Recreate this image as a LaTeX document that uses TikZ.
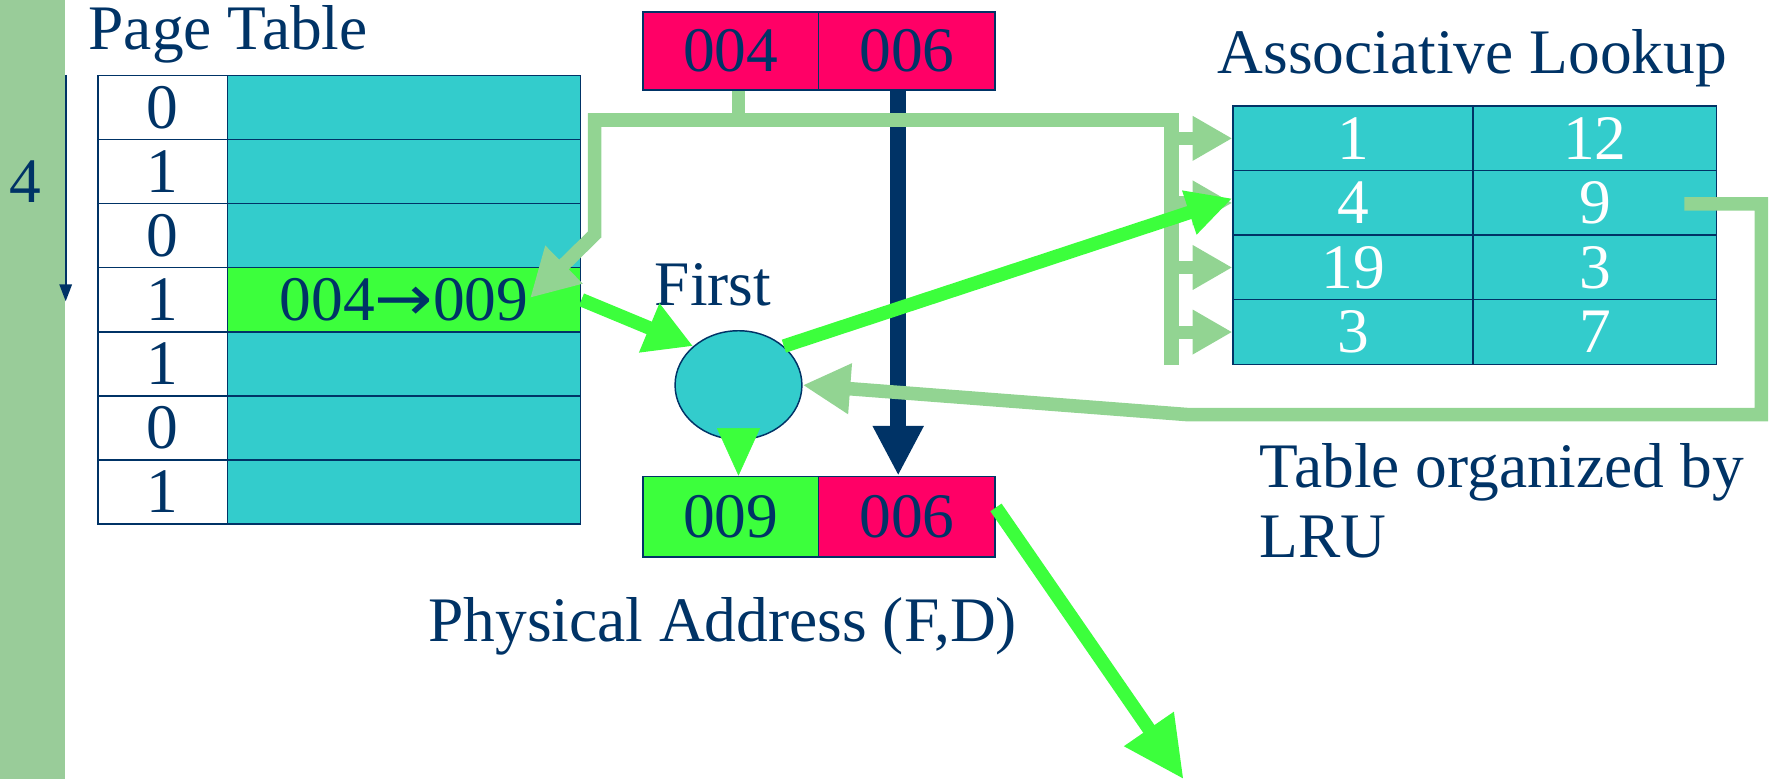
\documentclass[tikz,border=0pt]{standalone}
\usepackage{graphicx}
\usepackage{fontspec}
\setmainfont{Liberation Serif}
\newfontfamily\arrfont{DejaVu Sans}
\usetikzlibrary{arrows.meta,shapes.geometric}
\definecolor{navy}{RGB}{0,51,102}
\definecolor{tealc}{RGB}{51,204,204}
\definecolor{brightg}{RGB}{60,255,60}
\definecolor{pinkc}{RGB}{255,0,102}
\definecolor{sage}{RGB}{153,204,153}
\definecolor{paleg}{RGB}{146,212,146}
\newcommand\dfont{\fontsize{56}{62}\selectfont}
\begin{document}
\begin{tikzpicture}[x=1pt,y=-1pt,
  txt/.style={text=navy, font=\dfont, inner sep=0pt},
  cell/.style={draw=navy, line width=1.3pt, inner sep=0pt, text=navy, font=\dfont, anchor=north west},
  paleline/.style={draw=paleg, line width=12pt},
  brightline/.style={draw=brightg, line width=12pt},
]
\useasboundingbox (0,0) rectangle (1568,688);
\fill[sage] (0,0) rectangle (57,688);

% page table
\foreach \v [count=\i] in {0,1,0,1,1,0,1} {
  \node[cell, fill=white, minimum width=114pt, minimum height=56.57pt] (pl\i) at (86,{66+56.57*(\i-1)}) {\v};
}
\foreach \i in {1,2,3,5,6,7} {
  \node[cell, fill=tealc, minimum width=312pt, minimum height=56.57pt] (pr\i) at (200,{66+56.57*(\i-1)}) {};
}
\node[cell, fill=brightg, minimum width=312pt, minimum height=56.57pt] (pr4) at (200,{66+56.57*3}) {004\scalebox{1.1}[1]{\arrfont →}009};

% associative table
\foreach \l/\r [count=\i] in {1/12,4/9,19/3,3/7} {
  \node[cell, fill=tealc, text=white, minimum width=212pt, minimum height=57pt] (al\i) at (1088,{93+57*(\i-1)}) {\l};
  \node[cell, fill=tealc, text=white, minimum width=215pt, minimum height=57pt] (ar\i) at (1300,{93+57*(\i-1)}) {\r};
}

% address boxes
\node[cell, fill=pinkc, minimum width=155pt, minimum height=69pt] (t1) at (567,10) {004};
\node[cell, fill=pinkc, minimum width=156pt, minimum height=69pt] (t2) at (722,10) {006};
\node[cell, fill=brightg, minimum width=155pt, minimum height=71pt] (b1) at (567,420) {009};
\node[cell, fill=pinkc, minimum width=156pt, minimum height=71pt] (b2) at (722,420) {006};

\node[ellipse, draw=navy, line width=1.3pt, fill=tealc, minimum width=112pt, minimum height=96pt, inner sep=0pt] (first) at (652,340) {};

% texts
\node[txt, anchor=base west] (lpt) at (78,44) {Page Table};
\node[txt, anchor=base west] (lal) at (1075,65) {Associative Lookup};
\node[txt, anchor=base west] (lfi) at (578,270) {First};
\node[txt, anchor=base west] (lpa) at (378,566) {Physical Address (F,D)};
\node[txt, anchor=base west, align=left] (ltb) at (1112,492) {Table organized by\\LRU};
\node[txt] (lfour) at (22,160) {4};

% thin navy arrow
\coordinate (ts) at (58,66);
\coordinate (te) at (58,266);
\draw[navy, line width=1.5pt, -{Triangle[length=15pt,width=11pt]}] (ts) -- (te);

% navy thick arrow
\coordinate (n1) at (793,79);
\draw[navy, line width=14pt, -{Triangle[length=44pt,width=42pt]}] (n1) -- (n1 |- b2.north);

% light green from 004
\coordinate (j0) at (652,106);
\coordinate (jl) at (525,106);
\coordinate (jl2) at (525,207);
\coordinate (jr) at (1034,106);
\draw[paleline] (t1.south -| j0) -- (j0);
\draw[paleline, line cap=butt] ([xshift=-6pt]jl) -- (jr);
\draw[paleline, -{Triangle[length=42pt,width=44pt]}, line join=miter] ([yshift=6pt]jl) -- (jl2) -- (468,263);
\coordinate (bt) at (1034,100);
\coordinate (bb) at (1034,322);
\draw[paleline, line width=13pt] (bt) -- (bb);
\foreach \i in {1,...,4} {
  \draw[paleg, line width=11.5pt, -{Triangle[length=35pt,width=37pt]}] (al\i.west -| 1040,0) -- (al\i.west);
}

% light green LRU loop
\coordinate (l1) at (1487,180);
\coordinate (l2) at (1555,180);
\coordinate (l3) at (1555,366);
\coordinate (l4) at (1048,366);
\draw[paleline, line join=miter, -{Triangle[length=42pt,width=42pt]}] (l1) -- (l2) -- (l3) -- (l4) -- (first.east);

% bright green arrows
\draw[brightline, -{Triangle[length=42pt,width=44pt]}] (pr4.east) -- (first.north west);
\draw[brightline, -{Triangle[length=40pt,width=38pt]}] (first.north east) -- ([yshift=4pt]al2.west);
\draw[draw=brightg, line width=0.5pt, shorten <=38pt, -{Triangle[length=42pt,width=38pt]}] (first.center) -- (first.center |- b1.north);
\coordinate (out) at (1045,688);
\draw[brightline, -{Triangle[length=54pt,width=50pt]}] ([yshift=-28pt]b2.north east) -- (out);
\end{tikzpicture}
\end{document}
